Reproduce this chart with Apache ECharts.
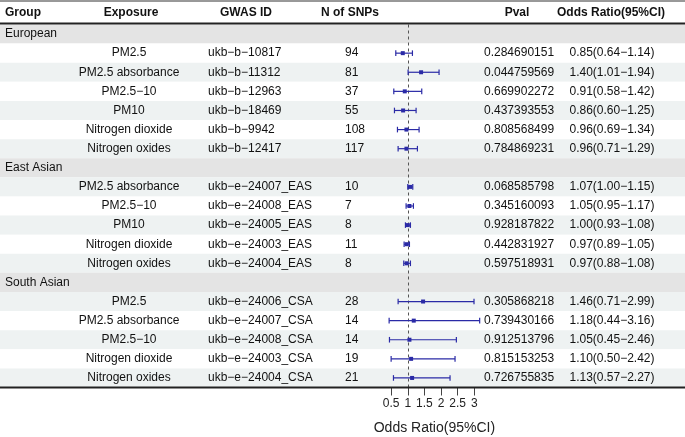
<!DOCTYPE html>
<html>
<head>
<meta charset="utf-8">
<script src="https://cdn.jsdelivr.net/npm/echarts@6/dist/echarts.min.js"></script>
<style>
html,body{margin:0;padding:0;background:#fff}
#chart{width:685px;height:437px}
</style>
</head>
<body>
<div id="chart"></div>
<script>
// data
var groupNames = ['European', 'East Asian', 'South Asian'];
var rowGroup = [0, 0, 0, 0, 0, 0, 1, 1, 1, 1, 1, 2, 2, 2, 2, 2];
var exposures = ['PM2.5', 'PM2.5 absorbance', 'PM2.5−10', 'PM10', 'Nitrogen dioxide', 'Nitrogen oxides',
	'PM2.5 absorbance', 'PM2.5−10', 'PM10', 'Nitrogen dioxide', 'Nitrogen oxides',
	'PM2.5', 'PM2.5 absorbance', 'PM2.5−10', 'Nitrogen dioxide', 'Nitrogen oxides'];
var gwasIds = ['ukb−b−10817', 'ukb−b−11312', 'ukb−b−12963', 'ukb−b−18469', 'ukb−b−9942', 'ukb−b−12417',
	'ukb−e−24007_EAS', 'ukb−e−24008_EAS', 'ukb−e−24005_EAS', 'ukb−e−24003_EAS', 'ukb−e−24004_EAS',
	'ukb−e−24006_CSA', 'ukb−e−24007_CSA', 'ukb−e−24008_CSA', 'ukb−e−24003_CSA', 'ukb−e−24004_CSA'];
var nSnps = [94, 81, 37, 55, 108, 117, 10, 7, 8, 11, 8, 28, 14, 14, 19, 21];
var pvals = ['0.284690151', '0.044759569', '0.669902272', '0.437393553', '0.808568499', '0.784869231',
	'0.068585798', '0.345160093', '0.928187822', '0.442831927', '0.597518931',
	'0.305868218', '0.739430166', '0.912513796', '0.815153253', '0.726755835'];
var orValues = [0.85, 1.40, 0.91, 0.86, 0.96, 0.96, 1.07, 1.05, 1.00, 0.97, 0.97, 1.46, 1.18, 1.05, 1.10, 1.13];
var ciLower = [0.64, 1.01, 0.58, 0.60, 0.69, 0.71, 1.00, 0.95, 0.93, 0.89, 0.88, 0.71, 0.44, 0.45, 0.50, 0.57];
var ciUpper = [1.14, 1.94, 1.42, 1.25, 1.34, 1.29, 1.15, 1.17, 1.08, 1.05, 1.08, 2.99, 3.16, 2.46, 2.42, 2.27];
var axisTicks = [0.5, 1, 1.5, 2, 2.5, 3];

var FONT = '"Liberation Sans", Arial, sans-serif';
var BLUE = '#2a2aa6';
var W = 685;
var TOP = 24.5, BOTTOM = 387.5;

// rows: group header followed by its exposures
var rows = [];
groupNames.forEach(function(g, gi){
	rows.push({group: g});
	rowGroup.forEach(function(rg, k){
		if(rg === gi) rows.push({idx: k});
	});
});
var rowCats = rows.map(function(r, i){ return String(i); });

function fmtOR(k){
	return orValues[k].toFixed(2) + '(' + ciLower[k].toFixed(2) + '−' + ciUpper[k].toFixed(2) + ')';
}

// table: row bands + texts
function renderTable(params, api){
	var i = api.value(1);
	var r = rows[i];
	var y = api.coord([0, i])[1];
	var h = api.size([0, 1])[1];
	var fill = r.group ? '#e4e4e4' : (i % 2 === 0 ? '#eef2f2' : '#ffffff');
	var children = [{
		type: 'rect',
		shape: {x: 0, y: y - h / 2, width: W, height: h},
		style: {fill: fill}
	}];
	function txt(s, x, align){
		children.push({
			type: 'text',
			style: {text: s, x: x, y: y, align: align, verticalAlign: 'middle',
				fontSize: 12, fontFamily: FONT, fill: '#111'}
		});
	}
	if(r.group){
		txt(r.group, 5, 'left');
	}else{
		var k = r.idx;
		txt(exposures[k], 129, 'center');
		txt(gwasIds[k], 208, 'left');
		txt(String(nSnps[k]), 345, 'left');
		txt(pvals[k], 484, 'left');
		txt(fmtOR(k), 612, 'center');
	}
	return {type: 'group', children: children};
}

// forest marks: CI line with caps + square
function renderForest(params, api){
	var row = api.value(3);
	var p = api.coord([api.value(0), row]);
	var a = api.coord([api.value(1), row]);
	var b = api.coord([api.value(2), row]);
	var st = {stroke: BLUE, lineWidth: 1.2};
	return {
		type: 'group',
		children: [
			{type: 'line', shape: {x1: a[0], y1: a[1], x2: b[0], y2: b[1]}, style: st},
			{type: 'line', shape: {x1: a[0], y1: a[1] - 2.8, x2: a[0], y2: a[1] + 2.8}, style: st},
			{type: 'line', shape: {x1: b[0], y1: b[1] - 2.8, x2: b[0], y2: b[1] + 2.8}, style: st},
			{type: 'rect', shape: {x: p[0] - 2, y: p[1] - 2, width: 4, height: 4}, style: {fill: BLUE}}
		]
	};
}

var tableData = rows.map(function(r, i){ return [0, i]; });
var forestData = [];
rows.forEach(function(r, i){
	if(!r.group) forestData.push([orValues[r.idx], ciLower[r.idx], ciUpper[r.idx], i]);
});

var headers = [
	{t: 'Group', x: 5, a: 'left'},
	{t: 'Exposure', x: 131, a: 'center'},
	{t: 'GWAS ID', x: 246, a: 'center'},
	{t: 'N of SNPs', x: 350, a: 'center'},
	{t: 'Pval', x: 517, a: 'center'},
	{t: 'Odds Ratio(95%CI)', x: 611, a: 'center'}
];
var graphics = headers.map(function(h){
	return {type: 'text', z: 100, style: {text: h.t, x: h.x, y: 13, align: h.a, verticalAlign: 'middle',
		fontSize: 12, fontWeight: 'bold', fontFamily: FONT, fill: '#111'}};
});
graphics.push({type: 'line', z: 100, shape: {x1: 0, y1: 1, x2: W, y2: 1}, style: {stroke: '#333', lineWidth: 1}});
graphics.push({type: 'line', z: 100, shape: {x1: 0, y1: 23.5, x2: W, y2: 23.5}, style: {stroke: '#222', lineWidth: 2}});
graphics.push({type: 'line', z: 100, shape: {x1: 0, y1: BOTTOM, x2: W, y2: BOTTOM}, style: {stroke: '#222', lineWidth: 2}});

var chart = echarts.init(document.getElementById('chart'));
var option = {
	animation: false,
	textStyle: {fontFamily: FONT},
	grid: [
		{left: 0, width: W, top: TOP, height: BOTTOM - TOP, outerBoundsMode: 'none'},
		{left: 387.8, width: 93.2, top: TOP, height: BOTTOM - TOP, outerBoundsMode: 'none'}
	],
	xAxis: [
		{gridIndex: 0, type: 'value', min: 0, max: 1, show: false},
		{
			gridIndex: 1, type: 'value', min: 0.4, max: 3.2,
			axisLine: {show: false},
			splitLine: {show: false},
			axisTick: {show: true, customValues: axisTicks, length: 8, lineStyle: {color: '#444'}},
			axisLabel: {customValues: axisTicks, margin: 10, fontSize: 12, color: '#222',
				formatter: function(v){ return String(v); }},
			name: 'Odds Ratio(95%CI)',
			nameLocation: 'middle',
			nameGap: 34,
			nameTextStyle: {fontSize: 14, color: '#222'}
		}
	],
	yAxis: [
		{gridIndex: 0, type: 'category', data: rowCats, inverse: true, show: false},
		{gridIndex: 1, type: 'category', data: rowCats, inverse: true, show: false}
	],
	graphic: graphics,
	series: [
		{
			type: 'custom', xAxisIndex: 0, yAxisIndex: 0, z: 1,
			renderItem: renderTable, data: tableData, silent: true,
			encode: {x: 0, y: 1}
		},
		{
			type: 'custom', xAxisIndex: 1, yAxisIndex: 1, z: 5,
			renderItem: renderForest, data: forestData,
			dimensions: ['or', 'lo', 'hi', 'row'],
			encode: {x: [0, 1, 2], y: 3}
		},
		{
			type: 'line', xAxisIndex: 1, yAxisIndex: 1, z: 4, data: [],
			markLine: {
				silent: true, symbol: 'none', label: {show: false},
				lineStyle: {color: '#555', type: [3, 3], width: 1},
				data: [{xAxis: 1}]
			}
		}
	]
};
chart.setOption(option);
</script>
</body>
</html>
